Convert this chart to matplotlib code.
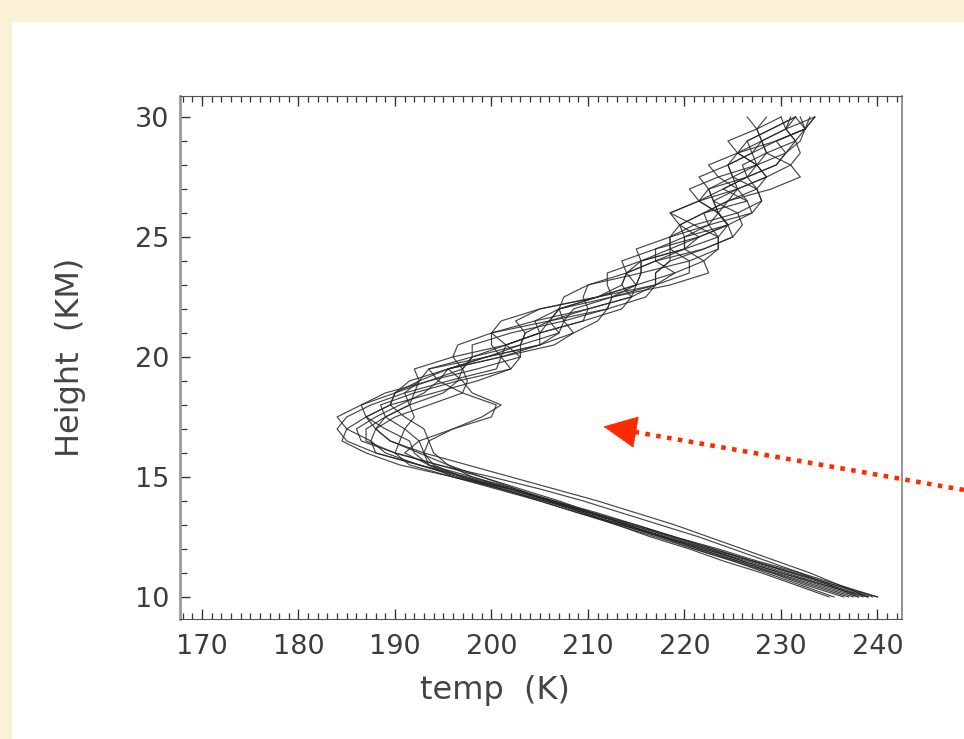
import matplotlib
matplotlib.use("Agg")
import matplotlib.pyplot as plt
from matplotlib.patches import Rectangle
from matplotlib.ticker import MultipleLocator

# Heights (km) shared by all profiles
heights = [10 + 0.5 * i for i in range(41)]

# Temperature profiles (K), one list per sounding
p01 = [239.5, 235.5, 231.2, 227, 223, 218.8, 214.5, 210.5, 206.3, 202, 197, 192.5, 188, 185, 184, 185, 187.5, 191, 195.5,
       200.5, 201, 200, 200, 204.5, 210, 214.5, 215, 214, 213.5, 217, 221.5, 224.5, 223.5, 221.5, 220.5, 223.5, 227.5, 230.5, 231.5, 230.5, 231]
p02 = [237, 233, 229.2, 225.5, 221.5, 217.7, 214, 210.2, 206.5, 202.5, 198, 193.5, 191, 192.5, 196, 200, 200.5, 197, 194.5,
       193.5, 198, 203, 207, 207.5, 207, 207.5, 210, 215.5, 220.5, 223.5, 223.5, 221, 218.5, 221.5, 225.5, 228.5, 227.5, 227, 226.5, 229, 231.5]
p03 = [240, 236, 232, 227.5, 223.5, 219, 215, 211, 206.5, 202, 196, 190.5, 187, 184.5, 185, 187, 189.5, 190, 191.5,
       195.5, 201, 205, 205, 204.5, 207, 212.5, 217, 220.5, 220.5, 218.5, 218.5, 221, 225.5, 228, 227.5, 225, 224.5, 227, 229.5, 232.5, 233.5]
p04 = [238, 234, 230, 226, 222.5, 218.5, 214.5, 210, 206, 201.5, 197, 194, 193, 192.5, 191, 189, 188.5, 192, 196.5,
       202, 203, 201.5, 200, 201, 205, 211, 215, 215.5, 215.5, 220, 223.5, 222.5, 222, 224.5, 227.5, 226.5, 226, 228.5, 231.5, 232.5, 233]
p05 = [239, 236, 233, 229.5, 226, 222.5, 219, 215, 211, 206.5, 202, 197.5, 193, 189.5, 188, 189, 191.5, 195, 196.5,
       197, 198, 201.5, 205, 209.5, 210, 209.5, 210, 214, 217, 220, 220, 219.5, 222, 224.5, 225.5, 225, 224.5, 225.5, 228, 230.5, 231.5]
p06 = [235, 231.5, 228, 224, 220.5, 216.5, 213, 209, 205, 201, 196.5, 192.5, 189, 187.5, 188, 190, 193.5, 197, 197.5,
       197, 196, 196.5, 200, 206, 212, 216, 217, 217, 218.5, 222, 225, 226, 225.5, 223, 222.5, 225, 227.5, 228.5, 228, 227.5, 228.5]
p07 = [238.5, 234.5, 230.5, 226.5, 222, 218, 213.5, 209.5, 205.5, 201, 196, 191.5, 190, 190.5, 191, 192, 191.5, 191, 192.5,
       195.5, 201, 206.5, 208.5, 207.5, 208.5, 212.5, 218.5, 222.5, 222, 220, 220, 222.5, 227, 228, 227.5, 228.5, 231, 232, 231.5, 230.5, 230]
p08 = [239, 235, 231, 227, 223, 219, 215, 210.5, 206, 202, 197.5, 192.5, 188, 187.5, 185, 184, 186.5, 190, 192.5,
       192, 196, 201.5, 205, 206, 207, 211, 215, 215.5, 215.5, 215, 218.5, 222.5, 223.5, 223, 222.5, 221.5, 224.5, 227, 228, 227.5, 226.5]
p09 = [236.5, 232.5, 229, 225, 221, 217.5, 213.5, 209.5, 206, 202.5, 199, 195.5, 192.5, 189.5, 188, 187, 189.5, 194, 198.5,
       202, 201, 201.5, 205, 209.5, 213.5, 214.5, 213.5, 214, 217, 222, 225, 224.5, 223.5, 224.5, 229, 232, 231, 228.5, 228, 230.5, 233.5]
p10 = [240, 235.5, 231.5, 227, 222.5, 218, 214, 210, 205.5, 201, 197, 193.5, 192, 191.5, 189, 187, 186.5, 189, 193.5,
       197, 198, 198, 202, 207.5, 212, 212.5, 212, 212, 215.5, 220, 221.5, 219.5, 218.5, 221.5, 224, 226.5, 229.5, 230.5, 229.5, 232.5, 233.5]
p11 = [235.5, 232, 228.5, 225, 221, 217, 213, 209.5, 206, 202, 198, 195.5, 194, 193.5, 193, 191, 189.5, 190, 193.5,
       198.5, 203, 203, 203.5, 206, 210, 214.5, 217, 217, 218.5, 218.5, 218.5, 219.5, 222, 226.5, 225.5, 223.5, 222.5, 225.5, 229.5, 232.5, 231.5]
p12 = [238, 235, 232, 228.5, 225, 221.5, 217.5, 213.5, 209.5, 205, 200, 194.5, 190, 186.5, 186, 188, 190.5, 193, 194.5,
       195.5, 199.5, 205, 208.5, 211, 212, 212.5, 215, 219, 222, 223.5, 223.5, 224.5, 227, 226.5, 224, 226.5, 229.5, 230.5, 232, 232.5, 232]
p13 = [239, 234.5, 230, 226, 222, 217.5, 213.5, 209, 205, 200.5, 196, 193.5, 193, 193.5, 196, 199, 201, 198, 197,
       195.5, 199.5, 203, 203.5, 202.5, 205, 211, 217, 219, 217, 217, 220, 224.5, 223.5, 221.5, 222.5, 226.5, 227.5, 225.5, 224.5, 227.5, 230]
p14 = [237.5, 233.5, 229.5, 225.5, 221.5, 218, 214, 210.5, 207, 203, 199, 194.5, 190, 187, 187, 189, 191.5, 192, 192.5,
       193.5, 199.5, 205, 207, 206, 207, 211, 213.5, 214, 215.5, 218.5, 221.5, 224.5, 223.5, 223, 225.5, 228.5, 227.5, 225.5, 226.5, 229, 231.5]
profiles = [p01, p02, p03, p04, p05, p06, p07, p08, p09, p10, p11, p12, p13, p14]

x_ticks = [170, 180, 190, 200, 210, 220, 230, 240]
y_ticks = [10, 15, 20, 25, 30]
x_label = "temp  (K)"
y_label = "Height  (KM)"

# Arrow annotation (data coords of head tip / base)
arrow_tip = (211.6, 17.1)
arrow_base = (214.85, 16.875)

W, H = 964, 739
fig = plt.figure(figsize=(W / 100, H / 100), dpi=100, facecolor="#FBF1D6")
fig.add_artist(Rectangle((12 / W, 0), 1, (H - 22) / H, transform=fig.transFigure,
                         facecolor="white", edgecolor="none", zorder=-5))

ax = fig.add_axes([180 / W, 1 - 619 / H, (902 - 180) / W, (619 - 96) / H])
ax.set_facecolor("white")

for prof in profiles:
    ax.plot(prof, heights, color="#262626", lw=0.85, alpha=0.85)

ax.set_xlim(167.72, 242.54)
ax.set_ylim(9.08, 30.875)
ax.set_xticks(x_ticks)
ax.set_yticks(y_ticks)
ax.xaxis.set_minor_locator(MultipleLocator(1))
ax.yaxis.set_minor_locator(MultipleLocator(1))

lab_col = "#3c3c3c"
ax.tick_params(axis="x", which="both", direction="in", top=True, bottom=True,
               colors="#333333", labelcolor=lab_col, labelsize=19.5, pad=11)
ax.tick_params(axis="x", which="major", length=7.5, width=1.0)
ax.tick_params(axis="x", which="minor", length=4.0, width=0.9)
ax.tick_params(axis="y", which="both", direction="in", left=True, right=False,
               colors="#333333", labelcolor=lab_col, labelsize=19.5, pad=8)
ax.tick_params(axis="y", which="major", length=7.5, width=1.0)
ax.tick_params(axis="y", which="minor", length=5.0, width=0.9)
for lab in ax.get_xticklabels() + ax.get_yticklabels():
    lab.set_family("DejaVu Sans")

ax.spines["top"].set_color("#555555")
ax.spines["bottom"].set_color("#555555")
ax.spines["left"].set_color("#9a9a9a")
ax.spines["left"].set_linewidth(2.0)
ax.spines["right"].set_color("#8a8a8a")
ax.spines["right"].set_linewidth(1.3)

fig.text(495 / W, 1 - 690 / H, x_label, ha="center", va="center",
         fontsize=23, color="#444444", family="DejaVu Sans")
fig.text(70 / W, 1 - 357 / H, y_label, ha="center", va="center", rotation=90,
         fontsize=23, color="#444444", family="DejaVu Sans")

red = "#FF2A00"
ax.annotate("", xy=arrow_base, xycoords="data", xytext=(1.0, 1 - 490 / H),
            textcoords="figure fraction", annotation_clip=False,
            arrowprops=dict(arrowstyle="-", color=red, lw=3.3,
                            linestyle=(0, (1, 1.4)), shrinkA=0, shrinkB=0,
                            capstyle="butt"))
ax.annotate("", xy=arrow_tip, xycoords="data", xytext=arrow_base,
            textcoords="data", annotation_clip=False,
            arrowprops=dict(arrowstyle="-|>,head_length=1.15,head_width=0.55",
                            mutation_scale=20, color=red, lw=0.5,
                            shrinkA=0, shrinkB=0))

fig.savefig("out.png", dpi=100, facecolor=fig.get_facecolor())
